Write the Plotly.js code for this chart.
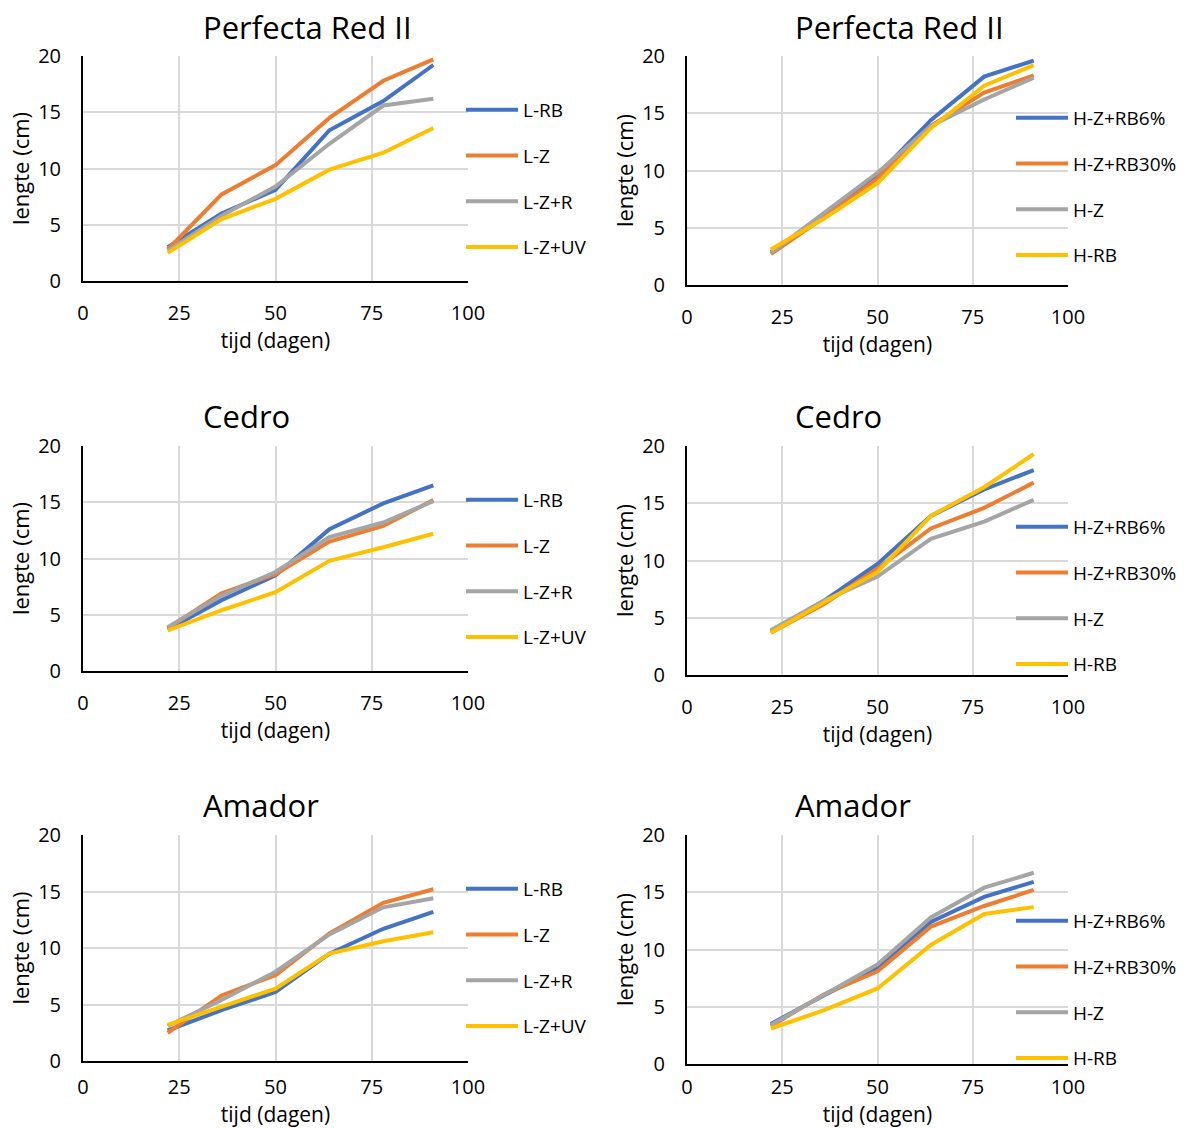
<!DOCTYPE html>
<html>
<head>
<meta charset="utf-8">
<script src="https://cdn.plot.ly/plotly-3.0.1.min.js"></script>
<style>html,body{margin:0;padding:0;background:#fff;}#chart{width:1195px;height:1128px;}</style>
</head>
<body>
<div id="chart"></div>
<script>
// ---- data ----
const days = [22, 36, 50, 64, 78, 91];

const titles = ["Perfecta Red II", "Perfecta Red II", "Cedro", "Cedro", "Amador", "Amador"];
const namesL = ["L-RB", "L-Z", "L-Z+R", "L-Z+UV"];
const namesH = ["H-Z+RB6%", "H-Z+RB30%", "H-Z", "H-RB"];

// Perfecta Red II, L
const perfL_RB   = [3.0, 6.0, 8.1, 13.4, 16.0, 19.2];
const perfL_Z    = [2.8, 7.7, 10.3, 14.5, 17.8, 19.7];
const perfL_ZR   = [2.7, 5.8, 8.4, 12.2, 15.6, 16.2];
const perfL_ZUV  = [2.5, 5.5, 7.3, 9.9, 11.4, 13.6];
// Perfecta Red II, H
const perfH_ZRB6  = [2.9, 6.0, 9.6, 14.4, 18.2, 19.6];
const perfH_ZRB30 = [2.7, 5.9, 9.3, 13.9, 16.8, 18.3];
const perfH_Z     = [2.8, 6.3, 9.8, 13.9, 16.2, 18.1];
const perfH_RB    = [3.1, 5.8, 8.9, 13.7, 17.4, 19.2];
// Cedro, L
const cedL_RB   = [3.7, 6.3, 8.5, 12.6, 14.9, 16.5];
const cedL_Z    = [3.8, 6.9, 8.6, 11.5, 12.9, 15.2];
const cedL_ZR   = [3.9, 6.7, 8.8, 11.9, 13.2, 15.1];
const cedL_ZUV  = [3.6, 5.4, 7.0, 9.8, 11.0, 12.2];
// Cedro, H
const cedH_ZRB6  = [3.8, 6.5, 9.7, 13.9, 16.2, 17.9];
const cedH_ZRB30 = [3.7, 6.2, 9.3, 12.8, 14.6, 16.8];
const cedH_Z     = [3.9, 6.5, 8.6, 11.9, 13.4, 15.3];
const cedH_RB    = [3.7, 6.4, 9.0, 13.9, 16.4, 19.3];
// Amador, L
const amaL_RB   = [2.7, 4.5, 6.1, 9.5, 11.7, 13.2];
const amaL_Z    = [2.5, 5.8, 7.6, 11.3, 14.0, 15.2];
const amaL_ZR   = [3.1, 5.4, 7.9, 11.2, 13.6, 14.4];
const amaL_ZUV  = [3.2, 4.8, 6.4, 9.5, 10.6, 11.4];
// Amador, H
const amaH_ZRB6  = [3.5, 6.0, 8.4, 12.4, 14.6, 15.9];
const amaH_ZRB30 = [3.3, 6.1, 8.1, 12.0, 13.8, 15.2];
const amaH_Z     = [3.4, 6.0, 8.7, 12.8, 15.4, 16.7];
const amaH_RB    = [3.1, 4.7, 6.6, 10.4, 13.1, 13.7];

const xTicks = [0, 25, 50, 75, 100];
const yTicks = [0, 5, 10, 15, 20];

// ---- styling ----
const colors = ["#4472C4", "#ED7D31", "#A5A5A5", "#FFC000"];
const FONT = "'Open Sans', Lato, sans-serif";
const W = 1195, H = 1128;

const panels = [
  {series: [perfL_RB, perfL_Z, perfL_ZR, perfL_ZUV], names: namesL},
  {series: [perfH_ZRB6, perfH_ZRB30, perfH_Z, perfH_RB], names: namesH},
  {series: [cedL_RB, cedL_Z, cedL_ZR, cedL_ZUV], names: namesL},
  {series: [cedH_ZRB6, cedH_ZRB30, cedH_Z, cedH_RB], names: namesH},
  {series: [amaL_RB, amaL_Z, amaL_ZR, amaL_ZUV], names: namesL},
  {series: [amaH_ZRB6, amaH_ZRB30, amaH_Z, amaH_RB], names: namesH}
];

// pixel geometry of each panel: [left, right, top, bottom]
const geom = [
  [83, 468, 56, 281],
  [687, 1068, 56, 285],
  [83, 468, 446, 671],
  [687, 1068, 446, 675],
  [83, 468, 835, 1061],
  [687, 1068, 835, 1064]
];
const titleY = [27, 27, 416, 416, 805, 805];
const titleX = [201, 793, 201, 793, 201, 793];
const legendX = [461, 1011, 461, 1011, 461, 1011];
const legendTop = [91, 99, 481, 508, 870, 902];
const xStandoff = [13, 13, 13, 13, 7, 4];

const traces = [];
const layout = {
  width: W, height: H,
  margin: {l: 0, r: 0, t: 0, b: 0},
  paper_bgcolor: "#fff", plot_bgcolor: "#fff",
  font: {family: FONT, color: "#000", size: 20},
  showlegend: true,
  annotations: []
};

panels.forEach((p, i) => {
  const k = i + 1;
  const xa = k === 1 ? "xaxis" : "xaxis" + k;
  const ya = k === 1 ? "yaxis" : "yaxis" + k;
  const lg = k === 1 ? "legend" : "legend" + k;
  const g = geom[i];
  p.series.forEach((vals, j) => {
    traces.push({
      type: "scatter", mode: "lines",
      x: days, y: vals, name: p.names[j],
      xaxis: "x" + (k === 1 ? "" : k), yaxis: "y" + (k === 1 ? "" : k),
      legend: lg, legendgroup: "g" + k + "_" + j,
      line: {color: colors[j], width: 4},
      hoverinfo: "x+y+name"
    });
  });
  layout[xa] = {
    domain: [g[0] / W, g[1] / W],
    anchor: "y" + (k === 1 ? "" : k),
    range: [0, 100], tickvals: xTicks, ticktext: xTicks.map(String),
    showgrid: true, gridcolor: "#d9d9d9", gridwidth: 1.5,
    zeroline: false, showline: true, linecolor: "#000", linewidth: 2,
    ticks: "", ticklabelstandoff: xStandoff[i],
    tickfont: {size: 20, color: "#000", family: FONT},
    title: {text: "tijd (dagen)", font: {size: 21, color: "#000", family: FONT}, standoff: 0}
  };
  layout[ya] = {
    domain: [1 - g[3] / H, 1 - g[2] / H],
    anchor: "x" + (k === 1 ? "" : k),
    range: [0, 20], tickvals: yTicks, ticktext: yTicks.map(String),
    showgrid: true, gridcolor: "#d9d9d9", gridwidth: 1.5,
    zeroline: false, showline: true, linecolor: "#000", linewidth: 2,
    ticks: "", ticklabelstandoff: 16,
    tickfont: {size: 20, color: "#000", family: FONT},
    title: {text: "lengte (cm)", font: {size: 22, color: "#000", family: FONT}, standoff: 2}
  };
  layout[lg] = {
    x: legendX[i] / W, xanchor: "left",
    y: 1 - legendTop[i] / H, yanchor: "top",
    bgcolor: "rgba(0,0,0,0)", borderwidth: 0,
    font: {size: 19, color: "#000", family: FONT},
    itemwidth: 52, tracegroupgap: 18, traceorder: "grouped"
  };
  layout.annotations.push({
    xref: "paper", yref: "paper",
    x: titleX[i] / W, y: 1 - titleY[i] / H,
    xanchor: "left", yanchor: "middle",
    text: titles[i], showarrow: false,
    font: {size: 31, color: "#000", family: FONT}
  });
});

Plotly.newPlot("chart", traces, layout, {displayModeBar: false, staticPlot: false});
</script>
</body>
</html>
